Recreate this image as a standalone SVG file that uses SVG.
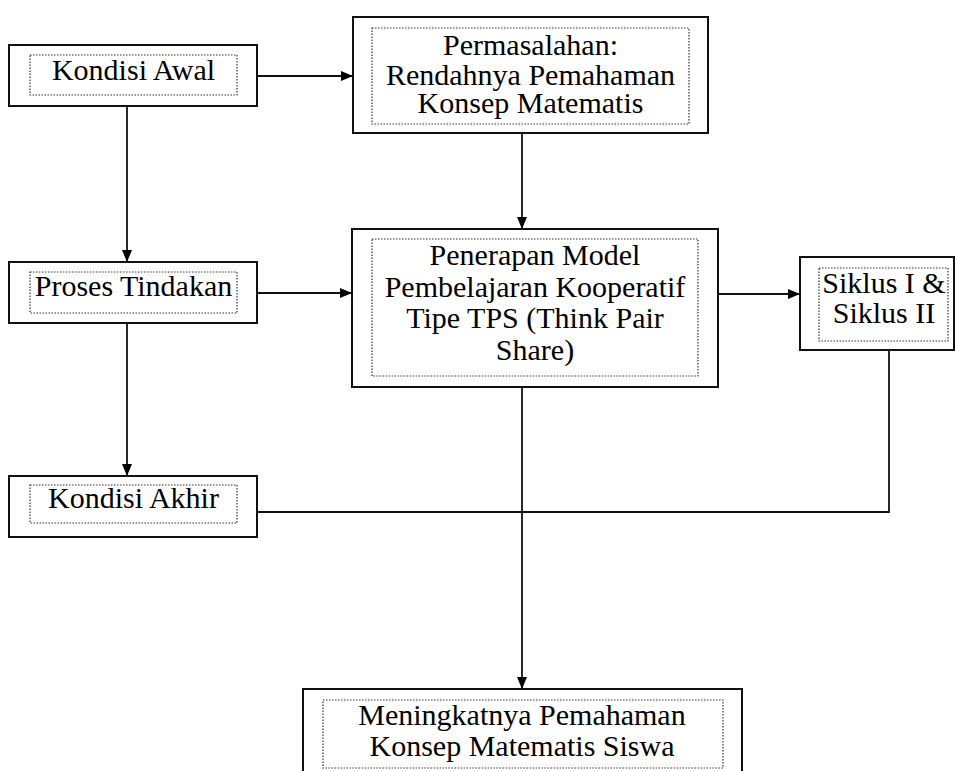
<svg xmlns="http://www.w3.org/2000/svg" width="955" height="771" viewBox="0 0 955 771">
  <style>
    .outer { fill: #fff; stroke: #111; stroke-width: 2; }
    .inner { fill: none; stroke: #333; stroke-width: 1.2; stroke-dasharray: 1.5 1.5; }
    .link { fill: none; stroke: #111; stroke-width: 1.8; }
    .label { font-family: "Liberation Serif", "Times New Roman", serif; font-size: 30px; text-anchor: middle; fill: #000; }
  </style>
  <defs>
    <marker id="arrow" viewBox="0 0 12 10" refX="12" refY="5" markerWidth="12" markerHeight="10" markerUnits="userSpaceOnUse" orient="auto">
      <path d="M0,0 L12,5 L0,10 Z" fill="#000"/>
    </marker>
  </defs>
  <rect width="955" height="771" fill="#fff"/>

  <!-- connectors -->
  <g id="connectors">
    <line class="link" x1="257" y1="76" x2="353" y2="76" marker-end="url(#arrow)"/>
    <line class="link" x1="127" y1="106" x2="127" y2="262" marker-end="url(#arrow)"/>
    <line class="link" x1="522" y1="133" x2="522" y2="229" marker-end="url(#arrow)"/>
    <line class="link" x1="257" y1="293" x2="352" y2="293" marker-end="url(#arrow)"/>
    <line class="link" x1="718" y1="294" x2="800" y2="294" marker-end="url(#arrow)"/>
    <line class="link" x1="127" y1="323" x2="127" y2="476" marker-end="url(#arrow)"/>
    <line class="link" x1="522" y1="387" x2="522" y2="689" marker-end="url(#arrow)"/>
    <polyline class="link" points="889,350 889,512 257,512"/>
  </g>

  <!-- nodes: solid outer frame, dotted inner frame, centred serif text -->
  <g id="kondisi-awal">
    <rect class="outer" x="9" y="45" width="248" height="61"/>
    <rect class="inner" x="30" y="55" width="207" height="40"/>
    <text class="label" x="133.5" y="80">Kondisi Awal</text>
  </g>

  <g id="permasalahan">
    <rect class="outer" x="353" y="17" width="355" height="116"/>
    <rect class="inner" x="372" y="28" width="317" height="96"/>
    <text class="label" x="530.5" y="55">Permasalahan:</text>
    <text class="label" x="530.5" y="84.5">Rendahnya Pemahaman</text>
    <text class="label" x="530.5" y="113">Konsep Matematis</text>
  </g>

  <g id="proses-tindakan">
    <rect class="outer" x="9" y="262" width="248" height="61"/>
    <rect class="inner" x="30" y="272" width="207" height="41"/>
    <text class="label" x="133.5" y="296">Proses Tindakan</text>
  </g>

  <g id="penerapan-model">
    <rect class="outer" x="352" y="229" width="366" height="158"/>
    <rect class="inner" x="372" y="239" width="326" height="137"/>
    <text class="label" x="535" y="265">Penerapan Model</text>
    <text class="label" x="535" y="296.5">Pembelajaran Kooperatif</text>
    <text class="label" x="535" y="328">Tipe TPS (Think Pair</text>
    <text class="label" x="535" y="359.5">Share)</text>
  </g>

  <g id="siklus">
    <rect class="outer" x="800" y="257" width="154" height="93"/>
    <rect class="inner" x="819" y="268" width="129" height="73"/>
    <text class="label" x="884" y="293">Siklus I &amp;</text>
    <text class="label" x="884" y="323">Siklus II</text>
  </g>

  <g id="kondisi-akhir">
    <rect class="outer" x="9" y="476" width="248" height="61"/>
    <rect class="inner" x="30" y="485" width="207" height="38"/>
    <text class="label" x="133.5" y="508">Kondisi Akhir</text>
  </g>

  <g id="meningkatnya">
    <rect class="outer" x="303" y="689" width="439" height="90"/>
    <rect class="inner" x="323" y="700" width="400" height="68"/>
    <text class="label" x="522" y="725">Meningkatnya Pemahaman</text>
    <text class="label" x="522" y="756">Konsep Matematis Siswa</text>
  </g>
</svg>
